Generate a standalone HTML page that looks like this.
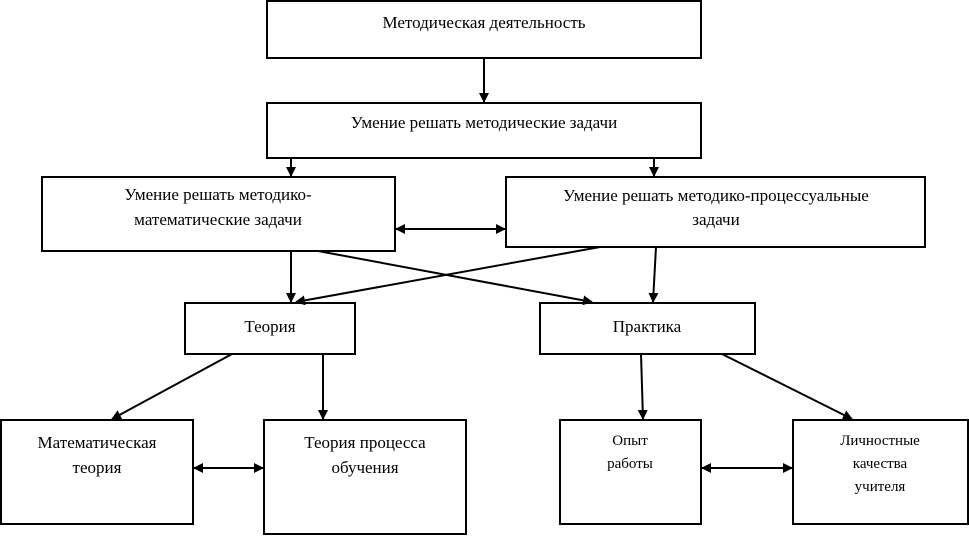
<!DOCTYPE html>
<html><head><meta charset="utf-8"><style>
body{margin:0;background:#fff;}
svg text{font-family:"Liberation Serif",serif;fill:#000;}
</style></head><body>
<svg width="969" height="537" xmlns="http://www.w3.org/2000/svg">
<defs><marker id="a" markerWidth="10" markerHeight="10" refX="9" refY="5" orient="auto" markerUnits="userSpaceOnUse"><path d="M0,0 L10,5 L0,10 z" fill="#000"/></marker>
<marker id="s" markerWidth="10" markerHeight="10" refX="1" refY="5" orient="auto" markerUnits="userSpaceOnUse"><path d="M10,0 L0,5 L10,10 z" fill="#000"/></marker></defs>
<g fill="none" stroke="#000" stroke-width="2">
<rect x="267" y="1" width="434" height="57"/>
<rect x="267" y="103" width="434" height="55"/>
<rect x="42" y="177" width="353" height="74"/>
<rect x="506" y="177" width="419" height="70"/>
<rect x="185" y="303" width="170" height="51"/>
<rect x="540" y="303" width="215" height="51"/>
<rect x="1" y="420" width="192" height="104"/>
<rect x="264" y="420" width="202" height="114"/>
<rect x="560" y="420" width="141" height="104"/>
<rect x="793" y="420" width="175" height="104"/>
</g>
<g stroke="#000" stroke-width="2" marker-end="url(#a)">
<line x1="484" y1="58" x2="484" y2="102"/>
<line x1="291" y1="158" x2="291" y2="176"/>
<line x1="654" y1="158" x2="654" y2="176"/>
<line x1="291" y1="251" x2="291" y2="302"/>
<line x1="318" y1="251" x2="592" y2="302"/>
<line x1="600" y1="247" x2="296" y2="302"/>
<line x1="656" y1="247" x2="653" y2="302"/>
<line x1="232" y1="354" x2="112" y2="419"/>
<line x1="323" y1="354" x2="323" y2="419"/>
<line x1="641" y1="354" x2="643" y2="419"/>
<line x1="722" y1="354" x2="852" y2="419"/>
<line x1="396" y1="229" x2="505" y2="229" marker-start="url(#s)"/>
<line x1="194" y1="468" x2="263" y2="468" marker-start="url(#s)"/>
<line x1="702" y1="468" x2="792" y2="468" marker-start="url(#s)"/>
</g>
<g font-size="17" text-anchor="middle">
<text x="484" y="28">Методическая деятельность</text>
<text x="484" y="128">Умение решать методические задачи</text>
<text x="218" y="200">Умение решать методико-</text>
<text x="218" y="225">математические задачи</text>
<text x="716" y="201">Умение решать методико-процессуальные</text>
<text x="716" y="225">задачи</text>
<text x="270" y="332">Теория</text>
<text x="647" y="332">Практика</text>
<text x="97" y="448">Математическая</text>
<text x="97" y="473">теория</text>
<text x="365" y="448">Теория процесса</text>
<text x="365" y="473">обучения</text>
</g>
<g font-size="15" text-anchor="middle">
<text x="630" y="445">Опыт</text>
<text x="630" y="468">работы</text>
<text x="880" y="445">Личностные</text>
<text x="880" y="468">качества</text>
<text x="880" y="491">учителя</text>
</g>
</svg>
</body></html>
